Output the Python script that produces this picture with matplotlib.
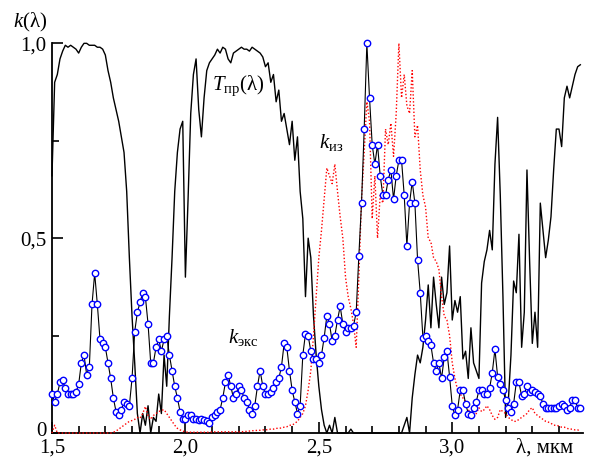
import numpy as np
import matplotlib
matplotlib.use("Agg")
import matplotlib.pyplot as plt
import matplotlib.transforms as mtransforms
from matplotlib.ticker import MultipleLocator, FixedLocator

plt.rcParams['font.family'] = ['Liberation Serif', 'DejaVu Serif']
plt.rcParams['mathtext.fontset'] = 'custom'
plt.rcParams['mathtext.rm'] = 'Liberation Serif'
plt.rcParams['mathtext.it'] = 'Liberation Serif:italic'

# wavelength grid, mkm (1.50 ... 3.48, step 0.01)
lam = np.arange(150, 349) / 100.0

# transmission T_pr(lambda)
t_pr = [
    0.66, 0.90, 0.92, 0.96, 0.98, 0.995, 0.99, 0.995, 0.99, 0.985,
    0.975, 0.99, 1.0, 1.0, 0.995, 0.995, 0.995, 0.99, 0.99, 0.985,
    0.97, 0.93, 0.90, 0.86, 0.83, 0.80, 0.76, 0.72, 0.62, 0.45,
    0.30, 0.18, 0.05, 0.0, 0.05, 0.02, 0.07, 0.0, 0.04, 0.03,
    0.10, 0.05, 0.20, 0.12, 0.30, 0.45, 0.62, 0.72, 0.78, 0.80,
    0.40, 0.60, 0.82, 0.92, 0.96, 0.83, 0.76, 0.86, 0.93, 0.95,
    0.96, 0.97, 0.985, 0.975, 0.99, 0.985, 0.96, 0.95, 0.975, 0.98,
    0.985, 0.99, 0.985, 0.985, 0.98, 0.99, 0.985, 0.98, 0.975, 0.965,
    0.94, 0.95, 0.90, 0.92, 0.85, 0.88, 0.80, 0.82, 0.78, 0.74,
    0.80, 0.70, 0.76, 0.62, 0.55, 0.35, 0.50, 0.45, 0.30, 0.20,
    0.12, 0.06, 0.02, 0.0, 0.02, 0.0, 0.04, 0.0, 0.0, 0.0,
    0.0, 0.0, 0.01, 0.0, 0.0, 0.0, 0.0, 0.0, 0.0, 0.0,
    0.0, 0.0, 0.0, 0.0, 0.0, 0.0, 0.0, 0.0, 0.0, 0.0,
    0.0, 0.0, 0.02, 0.04, 0.0, 0.09, 0.15, 0.20, 0.18, 0.22,
    0.29, 0.38, 0.27, 0.40, 0.33, 0.27, 0.40, 0.33, 0.36, 0.48,
    0.29, 0.34, 0.31, 0.35, 0.19, 0.21, 0.14, 0.27, 0.18, 0.16,
    0.14, 0.385, 0.44, 0.47, 0.52, 0.47, 0.69, 0.81, 0.61, 0.35,
    0.04, 0.08, 0.20, 0.39, 0.36, 0.51, 0.22, 0.31, 0.675, 0.44,
    0.23, 0.31, 0.22, 0.59, 0.52, 0.45, 0.495, 0.555, 0.675, 0.78,
    0.78, 0.735, 0.86, 0.89, 0.86, 0.89, 0.92, 0.94, 0.945,
]

# k_iz (red dotted)
k_iz = [
    0.0, 0.02, 0.0, 0.0, 0.0, 0.0, 0.0, 0.0, 0.0, 0.0,
    0.0, 0.0, 0.0, 0.0, 0.0, 0.0, 0.0, 0.0, 0.0, 0.0,
    0.0, 0.0, 0.0, 0.002, 0.005, 0.01, 0.015, 0.02, 0.025, 0.03,
    0.032, 0.035, 0.04, 0.038, 0.05, 0.068, 0.045, 0.035, 0.045, 0.05,
    0.055, 0.058, 0.06, 0.05, 0.04, 0.03, 0.02, 0.012, 0.008, 0.005,
    0.003, 0.002, 0.002, 0.002, 0.002, 0.002, 0.002, 0.002, 0.002, 0.002,
    0.003, 0.003, 0.003, 0.003, 0.003, 0.003, 0.003, 0.003, 0.003, 0.003,
    0.003, 0.003, 0.004, 0.004, 0.005, 0.006, 0.006, 0.007, 0.007, 0.008,
    0.008, 0.009, 0.01, 0.01, 0.012, 0.012, 0.013, 0.015, 0.016, 0.02,
    0.02, 0.025, 0.03, 0.04, 0.05, 0.07, 0.11, 0.16, 0.25, 0.35,
    0.45, 0.52, 0.60, 0.68, 0.66, 0.64, 0.69, 0.62, 0.555, 0.50,
    0.40, 0.35, 0.32, 0.28, 0.22, 0.40, 0.60, 0.72, 0.85, 0.80,
    0.55, 0.66, 0.50, 0.61, 0.59, 0.78, 0.74, 0.795, 0.71, 0.82,
    1.0, 0.86, 0.92, 0.84, 0.82, 0.93, 0.76, 0.79, 0.675, 0.61,
    0.58, 0.50, 0.49, 0.45, 0.44, 0.42, 0.35, 0.30, 0.29, 0.25,
    0.18, 0.14, 0.11, 0.10, 0.09, 0.08, 0.06, 0.05, 0.045, 0.05,
    0.065, 0.055, 0.06, 0.07, 0.06, 0.045, 0.035, 0.04, 0.06, 0.055,
    0.05, 0.04, 0.035, 0.03, 0.03, 0.035, 0.04, 0.045, 0.05, 0.06,
    0.065, 0.05, 0.045, 0.04, 0.035, 0.03, 0.028, 0.025, 0.02, 0.02,
    0.018, 0.015, 0.015, 0.012, 0.01, 0.01, 0.008, 0.008, 0.005,
]

# k_eks (blue circles)
k_eks = [
    0.10, 0.08, 0.10, 0.13, 0.135, 0.115, 0.10, 0.10, 0.10, 0.105,
    0.125, 0.18, 0.20, 0.15, 0.17, 0.33, 0.41, 0.33, 0.24, 0.23,
    0.22, 0.18, 0.14, 0.09, 0.055, 0.045, 0.06, 0.08, 0.075, 0.07,
    0.14, 0.26, 0.31, 0.335, 0.36, 0.35, 0.28, 0.18, 0.18, 0.22,
    0.24, 0.21, 0.24, 0.25, 0.20, 0.16, 0.12, 0.09, 0.055, 0.035,
    0.035, 0.045, 0.045, 0.035, 0.035, 0.033, 0.035, 0.033, 0.03, 0.025,
    0.04, 0.045, 0.055, 0.06, 0.09, 0.13, 0.15, 0.12, 0.09, 0.10,
    0.12, 0.11, 0.09, 0.08, 0.06, 0.05, 0.07, 0.12, 0.16, 0.12,
    0.10, 0.10, 0.105, 0.115, 0.13, 0.14, 0.17, 0.23, 0.22, 0.16,
    0.11, 0.08, 0.05, 0.07, 0.20, 0.255, 0.25, 0.21, 0.19, 0.19,
    0.18, 0.20, 0.245, 0.30, 0.28, 0.235, 0.25, 0.29, 0.325, 0.28,
    0.26, 0.27, 0.27, 0.275, 0.31, 0.455, 0.59, 0.78, 1.0, 0.86,
    0.74, 0.69, 0.74, 0.66, 0.61, 0.61, 0.65, 0.675, 0.60, 0.66,
    0.70, 0.70, 0.61, 0.48, 0.59, 0.645, 0.59, 0.445, 0.36, 0.245,
    0.25, 0.235, 0.225, 0.18, 0.16, 0.18, 0.14, 0.195, 0.21, 0.145,
    0.07, 0.045, 0.06, 0.11, 0.11, 0.075, 0.05, 0.045, 0.065, 0.08,
    0.11, 0.11, 0.10, 0.10, 0.115, 0.155, 0.215, 0.145, 0.125, 0.11,
    0.085, 0.065, 0.055, 0.075, 0.13, 0.13, 0.095, 0.10, 0.12, 0.105,
    0.11, 0.105, 0.10, 0.095, 0.075, 0.065, 0.065, 0.065, 0.065, 0.065,
    0.07, 0.075, 0.07, 0.06, 0.065, 0.085, 0.085, 0.065, 0.065,
]

fig = plt.figure(figsize=(5.92, 4.59), dpi=100)
ax = fig.add_axes([0.0878, 0.0566, 0.897, 0.849])

ax.plot(lam, t_pr, color='black', lw=1.0, clip_on=False, zorder=2)
ax.plot(lam, k_iz, color='red', lw=1.0, ls=(0, (1, 1.5)), clip_on=False, zorder=3)
ax.plot(lam, k_eks, color='black', lw=0.8, marker='o', ms=4.6, mfc='white',
        mec='blue', mew=1.0, clip_on=False, zorder=4)

ax.set_xlim(1.5, 3.49)
ax.set_ylim(0, 1.0)

for s in ['top', 'right']:
    ax.spines[s].set_visible(False)
for s in ['left', 'bottom']:
    ax.spines[s].set_linewidth(1.3)

ax.xaxis.set_major_locator(FixedLocator([1.5, 2.0, 2.5, 3.0]))
ax.xaxis.set_minor_locator(MultipleLocator(0.1))
ax.yaxis.set_major_locator(FixedLocator([0, 0.5, 1.0]))
ax.yaxis.set_minor_locator(FixedLocator([0.25, 0.75]))
ax.set_xticklabels(['1,5', '2,0', '2,5', '3,0'])
ax.set_yticklabels(['0', '0,5', '1,0'])
ax.tick_params(which='both', direction='in', labelsize=15, width=1.2)
ax.tick_params(which='major', length=8)
ax.tick_params(which='minor', length=5)
ax.tick_params(axis='y', pad=4)
ax.tick_params(axis='x', pad=4)

# nudge the "0" label up a little so it does not sit on "1,5"
zero_lbl = ax.get_yticklabels()[0]
zero_lbl.set_transform(zero_lbl.get_transform() +
                       mtransforms.ScaledTranslation(0, 3 / 72, fig.dpi_scale_trans))

fig.text(13 / 592, 1 - 22 / 459, r'$k\mathrm{(λ)}$', fontsize=15, ha='left', va='center')
fig.text(545 / 592, 1 - 448 / 459, 'λ, мкм', fontsize=15, ha='center', va='center')

ax.text(2.10, 0.89, r'$T_{\mathrm{пр}}\mathrm{(λ)}$', fontsize=15, ha='left', va='center')
ax.text(2.50, 0.745, r'$k_{\mathrm{из}}$', fontsize=15, ha='left', va='center')
ax.text(2.16, 0.245, r'$k_{\mathrm{экс}}$', fontsize=15, ha='left', va='center')

fig.savefig('out.png', dpi=100)
